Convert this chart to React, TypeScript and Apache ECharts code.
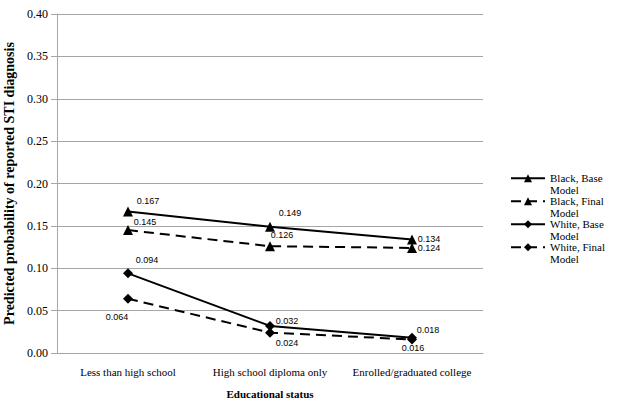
import React, { useEffect, useRef } from "react";
import * as echarts from "echarts";

const categories = ["Less than high school", "High school diploma only", "Enrolled/graduated college"];
const blackBase = [0.167, 0.149, 0.134];
const blackFinal = [0.145, 0.126, 0.124];
const whiteBase = [0.094, 0.032, 0.018];
const whiteFinal = [0.064, 0.024, 0.016];
const seriesNames = ["Black, Base\nModel", "Black, Final\nModel", "White, Base\nModel", "White, Final\nModel"];

export default function App() {
  const ref = useRef<HTMLDivElement>(null);
  useEffect(() => {
    document.body.style.margin = "0";
    document.body.style.overflow = "hidden";
    const chart = echarts.init(ref.current!, null, { renderer: "svg" });
    const serif = "Liberation Serif";
    const sans = "Liberation Sans";
    const lbl = (off: number[]) => ({
      show: true,
      position: "inside",
      offset: off,
      fontFamily: sans,
      fontSize: 9,
      color: "#000",
      formatter: (p: any) => p.value.toFixed(3),
    });
    const mk = (name: string, data: number[], symbol: string, dashed: boolean, labels: any[]) => ({
      name,
      type: "line",
      data: data.map((v, i) => ({ value: v, label: labels[i] })),
      symbol,
      symbolSize: 10,
      lineStyle: { color: "#000", width: 2, type: dashed ? [10, 6] : "solid" },
      itemStyle: { color: "#000" },
    });
    chart.setOption({
      animation: false,
      grid: { left: 57, right: 134, top: 14, bottom: 55, outerBoundsMode: "none", containLabel: false },
      legend: {
        orient: "vertical",
        left: 510,
        top: 161,
        padding: 0,
        itemWidth: 34,
        itemHeight: 10,
        itemGap: -11.5,
        formatter: (n: string) => "\n" + n,
        textStyle: { fontFamily: serif, fontSize: 11, color: "#000", lineHeight: 11.5 },
        data: seriesNames,
      },
      xAxis: {
        type: "category",
        data: categories,
        boundaryGap: true,
        axisLine: { lineStyle: { color: "#a6a6a6", width: 1 } },
        axisTick: { show: false },
        axisLabel: { fontFamily: serif, fontSize: 11, color: "#000", margin: 13, interval: 0 },
        name: "Educational status",
        nameLocation: "middle",
        nameGap: 35,
        nameTextStyle: { fontFamily: serif, fontSize: 11, fontWeight: "bold", color: "#000" },
      },
      yAxis: {
        type: "value",
        min: 0,
        max: 0.4,
        interval: 0.05,
        axisLine: { show: true, lineStyle: { color: "#a6a6a6", width: 1 } },
        axisTick: { show: true, length: 6, lineStyle: { color: "#a6a6a6" } },
        splitLine: { lineStyle: { color: "#a6a6a6", width: 1 } },
        axisLabel: {
          fontFamily: serif,
          fontSize: 12,
          color: "#000",
          margin: 9,
          formatter: (v: number) => v.toFixed(2),
        },
        name: "Predicted probability of reported STI diagnosis",
        nameLocation: "middle",
        nameGap: 37,
        nameTextStyle: { fontFamily: serif, fontSize: 14, fontWeight: "bold", color: "#000" },
      },
      series: [
        mk(seriesNames[0], blackBase, "triangle", false, [lbl([20, -10]), lbl([20, -14]), lbl([17, 0])]),
        mk(seriesNames[1], blackFinal, "triangle", true, [lbl([17, -8]), lbl([12, -11]), lbl([17, 0])]),
        mk(seriesNames[2], whiteBase, "diamond", false, [lbl([19, -13]), lbl([17, -5]), lbl([16, -8])]),
        mk(seriesNames[3], whiteFinal, "diamond", true, [lbl([-11, 18]), lbl([17, 10]), lbl([1, 9])]),
      ],
    });
    return () => chart.dispose();
  }, []);
  return <div ref={ref} style={{ width: 617, height: 408 }} />;
}
